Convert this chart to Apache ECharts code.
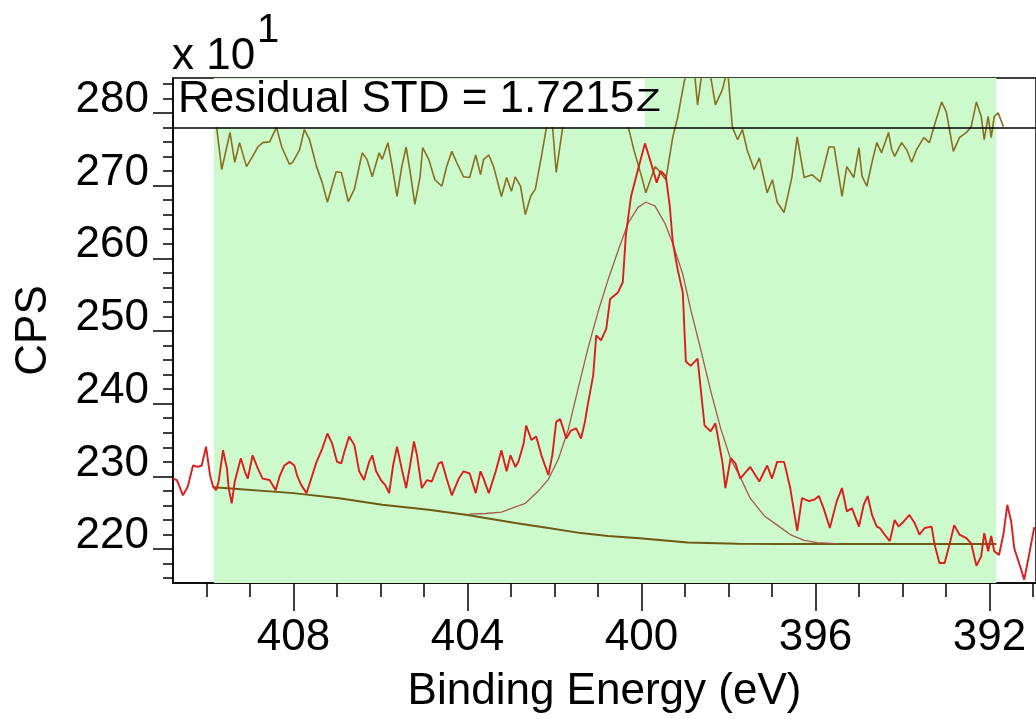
<!DOCTYPE html>
<html>
<head>
<meta charset="utf-8">
<title>N 1s</title>
<script src="https://cdn.jsdelivr.net/npm/echarts@6/dist/echarts.min.js"></script>
<style>
  html, body { margin: 0; padding: 0; background: #ffffff; }
  #chart { width: 1036px; height: 719px; }
</style>
</head>
<body>
<div id="chart"></div>
<script>
// Measured spectrum: [binding energy (eV), counts per second / 10]
const rawSpectrum = [
  [410.77,229.7],[410.68,229.5],[410.54,227.4],[410.43,228.6],[410.31,231.5],[410.20,231.3],[410.11,231.5],[410.01,234.1],
  [409.92,230.2],[409.85,228.6],[409.78,228.1],[409.72,229.3],[409.62,233.6],[409.53,231.1],[409.49,228.4],[409.42,226.3],
  [409.35,229.3],[409.21,232.5],[409.12,230.7],[409.05,229.7],[408.94,232.9],[408.82,231.1],[408.71,229.7],[408.55,229.5],
  [408.41,228.1],[408.32,230.0],[408.21,231.5],[408.09,232.0],[407.98,231.5],[407.91,230.0],[407.82,228.8],[407.70,227.7],
  [407.63,229.0],[407.47,232.0],[407.34,233.8],[407.22,235.9],[407.11,234.5],[407.00,232.0],[406.90,231.8],[406.83,233.4],
  [406.72,235.5],[406.60,234.3],[406.49,230.7],[406.38,229.5],[406.26,232.0],[406.19,232.9],[406.10,230.7],[405.99,229.5],
  [405.89,228.8],[405.80,227.7],[405.71,231.5],[405.62,234.1],[405.51,231.0],[405.41,228.4],[405.32,231.5],[405.23,234.8],
  [405.16,232.9],[405.05,228.4],[404.93,229.5],[404.82,229.3],[404.66,231.8],[404.59,232.0],[404.48,229.7],[404.36,227.4],
  [404.20,229.7],[404.09,230.7],[403.95,230.4],[403.81,227.7],[403.70,230.7],[403.63,229.7],[403.51,227.7],[403.35,230.7],
  [403.22,233.6],[403.10,230.7],[403.01,232.9],[402.90,231.3],[402.83,232.0],[402.71,234.5],[402.65,237.0],[402.53,235.0],
  [402.42,235.5],[402.30,232.9],[402.14,230.2],[402.05,232.9],[401.96,237.5],[401.87,237.9],[401.80,236.6],[401.73,235.2],
  [401.62,236.3],[401.50,236.6],[401.39,235.2],[401.30,237.5],[401.23,240.0],[401.11,243.9],[401.04,249.4],[400.93,248.7],
  [400.81,250.3],[400.72,254.4],[400.54,255.3],[400.43,256.7],[400.36,263.1],[400.24,268.5],[400.08,272.2],[399.92,275.8],
  [399.78,273.1],[399.65,270.4],[399.56,272.0],[399.44,271.3],[399.35,267.2],[399.28,262.2],[399.17,258.5],[399.05,255.3],
  [398.98,245.8],[398.87,245.2],[398.71,246.2],[398.55,237.0],[398.41,236.2],[398.30,237.3],[398.14,232.0],[398.07,228.4],
  [397.95,232.5],[397.84,231.8],[397.73,229.7],[397.50,231.3],[397.29,229.3],[397.11,231.5],[397.00,229.7],[396.88,232.0],
  [396.72,232.0],[396.58,228.4],[396.42,222.5],[396.31,227.0],[396.15,226.6],[396.03,226.8],[395.92,227.3],[395.80,225.4],
  [395.67,222.9],[395.51,226.6],[395.39,228.4],[395.28,225.2],[395.16,225.6],[395.00,223.1],[394.89,226.1],[394.80,227.3],
  [394.70,224.7],[394.59,223.1],[394.52,222.9],[394.41,222.0],[394.29,221.1],[394.18,224.0],[394.09,223.1],[393.97,223.8],
  [393.84,224.7],[393.72,223.6],[393.61,222.0],[393.49,222.9],[393.33,223.1],[393.26,220.6],[393.15,218.1],[393.03,218.1],
  [392.92,220.6],[392.81,223.3],[392.69,222.0],[392.53,221.5],[392.42,220.8],[392.30,217.7],[392.19,219.0],[392.12,222.2],
  [392.03,219.7],[391.96,221.8],[391.89,219.7],[391.78,219.2],[391.68,222.0],[391.59,226.1],[391.50,223.8],[391.43,220.1],
  [391.32,218.1],[391.20,215.8],[391.09,219.2],[390.97,223.0]
];

// Fit residual, drawn in the upper band
const residual = [
  [409.83,280.5],[409.76,277.7],[409.65,272.2],[409.46,277.3],[409.35,273.2],[409.24,275.9],[409.08,272.6],[408.94,274.0],
  [408.82,275.3],[408.71,275.9],[408.55,276.0],[408.39,278.0],[408.27,275.3],[408.09,272.9],[408.02,273.2],[407.86,274.9],
  [407.75,277.7],[407.63,276.3],[407.47,272.6],[407.34,270.4],[407.22,267.7],[407.02,271.9],[406.90,271.8],[406.74,267.8],
  [406.60,269.5],[406.42,274.5],[406.31,273.6],[406.19,271.2],[406.03,274.5],[405.96,273.6],[405.83,275.9],[405.73,272.6],
  [405.62,268.5],[405.51,272.6],[405.41,275.3],[405.30,271.2],[405.21,267.4],[405.09,271.2],[405.03,275.2],[404.89,273.6],
  [404.75,270.8],[404.59,269.9],[404.48,272.6],[404.36,274.7],[404.25,273.2],[404.09,271.2],[403.95,271.1],[403.81,274.2],
  [403.70,271.5],[403.63,273.6],[403.51,274.2],[403.40,272.6],[403.22,268.5],[403.10,271.1],[402.99,269.2],[402.90,271.2],
  [402.78,269.9],[402.67,266.0],[402.55,268.5],[402.44,269.5],[402.30,274.0],[402.14,279.5],[402.07,280.0],[401.96,271.8],
  [401.80,278.5],[401.57,282.0],[401.23,283.0],[400.88,282.0],[400.54,280.5],[400.31,278.2],[400.17,274.8],[400.01,271.5],
  [399.90,269.0],[399.69,272.6],[399.62,272.2],[399.44,270.8],[399.28,276.7],[399.17,279.3],[399.01,284.5],[398.90,287.0],
  [398.78,285.5],[398.71,281.1],[398.60,286.0],[398.48,285.5],[398.41,285.0],[398.30,281.1],[398.14,283.2],[398.02,286.0],
  [397.91,278.0],[397.79,276.3],[397.68,277.7],[397.57,274.9],[397.41,272.2],[397.29,273.8],[397.11,269.0],[396.99,270.8],
  [396.88,267.7],[396.72,266.3],[396.54,271.2],[396.42,276.7],[396.26,271.1],[396.08,271.5],[395.89,270.5],[395.69,275.3],
  [395.57,275.3],[395.39,268.5],[395.28,272.6],[395.12,271.1],[395.00,275.2],[394.93,271.3],[394.82,269.9],[394.70,273.2],
  [394.59,275.9],[394.48,274.5],[394.32,277.3],[394.25,275.0],[394.18,274.0],[394.02,275.9],[393.90,274.9],[393.79,273.2],
  [393.68,274.9],[393.51,276.6],[393.38,275.9],[393.26,278.4],[393.10,281.5],[392.99,280.1],[392.83,274.7],[392.69,276.6],
  [392.53,277.3],[392.42,278.1],[392.30,281.5],[392.19,279.5],[392.12,276.3],[392.03,279.5],[391.96,276.6],[391.89,279.5],
  [391.80,280.0],[391.68,278.1]
];

// Fitted envelope (component + background)
const envelope = [
  [403.97,224.8],[403.58,224.9],[403.22,225.1],[402.99,225.6],[402.67,226.3],[402.37,228.0],[402.14,229.6],[401.91,232.4],
  [401.68,236.5],[401.46,242.0],[401.23,247.6],[401.00,252.6],[400.77,257.0],[400.54,261.0],[400.31,264.8],[400.08,267.0],
  [399.90,267.7],[399.69,267.2],[399.46,264.8],[399.28,262.0],[399.05,257.8],[398.87,253.0],[398.64,247.5],[398.41,241.8],
  [398.18,236.6],[397.95,232.4],[397.73,229.9],[397.50,227.0],[397.18,224.6],[396.88,223.3],[396.58,222.0],[396.26,221.2],
  [395.96,220.9],[395.51,220.75]
];

// Shirley-type background
const background = [
  [409.83,228.5],[408.00,227.7],[406.95,227.0],[405.96,226.1],[404.89,225.4],[404.00,224.7],[402.90,223.6],[402.14,222.9],
  [401.39,222.2],[400.77,221.8],[400.04,221.5],[398.94,220.9],[397.79,220.75],[396.81,220.7],[391.84,220.7]
];

// Quantification region limits (eV)
const regionStart = 409.83;
const regionEnd = 391.84;

// Zero line of the residual band
const residualBase = 277.95;

// Axis ticks
const energyMajorTicks = [392, 396, 400, 404, 408];
const energyMinorTicks = [391, 392, 393, 394, 395, 396, 397, 398, 399, 400, 401, 402, 403, 404, 405, 406, 407, 408, 409, 410];
const cpsMajorTicks = [220, 230, 240, 250, 260, 270, 280];
const cpsMinorTicks = [216, 218, 222, 224, 226, 228, 232, 234, 236, 238, 242, 244, 246, 248, 252, 254, 256, 258, 262, 264, 266, 268, 272, 274, 276, 278, 282, 284];

const residualLabel = 'Residual STD = 1.7215';

const FONT = '"Liberation Sans", Arial, Helvetica, sans-serif';
const BLACK = '#000000';
const energyRange = { min: 390.93, max: 410.77 };
const cpsRange = { min: 215.34, max: 284.79 };

const chart = echarts.init(document.getElementById('chart'), null, { renderer: 'canvas' });

const tickLine = { color: BLACK, width: 1.5 };

chart.setOption({
  animation: false,
  backgroundColor: '#ffffff',
  grid: {
    left: 173, top: 78, right: -4, bottom: 135,
    show: true, borderColor: BLACK, borderWidth: 1.5, backgroundColor: 'transparent'
  },
  xAxis: [
    {
      type: 'value', inverse: true, position: 'bottom',
      min: energyRange.min, max: energyRange.max,
      axisLine: { show: true, onZero: false, lineStyle: { color: BLACK, width: 1.5 } },
      axisTick: { show: true, inside: false, length: 28, customValues: energyMajorTicks, lineStyle: tickLine },
      axisLabel: { customValues: energyMajorTicks, margin: 33, fontSize: 44, lineHeight: 44, fontFamily: FONT, color: BLACK },
      splitLine: { show: false },
      name: 'Binding Energy (eV)', nameLocation: 'middle', nameGap: 87,
      nameTextStyle: { fontSize: 44, lineHeight: 44, fontFamily: FONT, color: BLACK }
    },
    {
      type: 'value', inverse: true, position: 'bottom', offset: 0,
      min: energyRange.min, max: energyRange.max,
      axisLine: { show: false, onZero: false },
      axisTick: { show: true, inside: false, length: 14, customValues: energyMinorTicks, lineStyle: tickLine },
      axisLabel: { show: false },
      splitLine: { show: false }
    }
  ],
  yAxis: [
    {
      type: 'value', position: 'left',
      min: cpsRange.min, max: cpsRange.max,
      axisLine: { show: true, onZero: false, lineStyle: { color: BLACK, width: 1.5 } },
      axisTick: { show: true, inside: false, length: 20, customValues: cpsMajorTicks, lineStyle: tickLine },
      axisLabel: { customValues: cpsMajorTicks, margin: 24, fontSize: 44, lineHeight: 26, verticalAlign: 'bottom', fontFamily: FONT, color: BLACK },
      splitLine: { show: false },
      name: 'CPS', nameLocation: 'middle', nameGap: 117, nameRotate: 90,
      nameTextStyle: { fontSize: 44, lineHeight: 44, fontFamily: FONT, color: BLACK }
    },
    {
      type: 'value', position: 'left', offset: 0,
      min: cpsRange.min, max: cpsRange.max,
      axisLine: { show: false, onZero: false },
      axisTick: { show: true, inside: false, length: 10, customValues: cpsMinorTicks, lineStyle: tickLine },
      axisLabel: { show: false },
      splitLine: { show: false }
    }
  ],
  series: [
    {
      name: 'Background', type: 'line', data: background,
      xAxisIndex: 0, yAxisIndex: 0, z: 1,
      symbol: 'none', smooth: false,
      lineStyle: { color: '#6e5a14', width: 2 },
      markArea: {
        silent: true,
        itemStyle: { color: '#ccfacc', opacity: 1 },
        data: [[{ xAxis: regionStart }, { xAxis: regionEnd }]]
      }
    },
    {
      name: 'Envelope', type: 'line', data: envelope,
      xAxisIndex: 0, yAxisIndex: 0, z: 2,
      symbol: 'none', smooth: false,
      lineStyle: { color: '#a9574a', width: 1.3 }
    },
    {
      name: 'Residual', type: 'line', data: residual,
      xAxisIndex: 0, yAxisIndex: 0, z: 3,
      symbol: 'none', smooth: false,
      lineStyle: { color: '#8b6d1e', width: 1.6 },
      markLine: {
        silent: true, symbol: 'none',
        label: { show: false },
        lineStyle: { color: BLACK, type: 'solid', width: 1.5 },
        data: [{ yAxis: residualBase }]
      }
    },
    {
      name: 'Counts', type: 'line', data: rawSpectrum,
      xAxisIndex: 0, yAxisIndex: 0, z: 4,
      symbol: 'none', smooth: false,
      lineStyle: { color: '#dd1c1c', width: 1.9 }
    }
  ],
  graphic: [
    {
      type: 'rect', z: 100, silent: true,
      shape: { x: 174, y: 79, width: 471, height: 48 },
      style: { fill: '#ffffff' }
    },
    {
      type: 'text', z: 101, silent: true, x: 178, y: 100,
      style: { text: residualLabel, font: '44px ' + FONT, fill: BLACK, align: 'left', verticalAlign: 'middle' }
    },
    {
      type: 'text', z: 102, silent: true, x: 636, y: 102, scaleX: 1.3,
      style: { text: 'Z', font: '31px ' + FONT, fill: BLACK, align: 'left', verticalAlign: 'middle' }
    },
    {
      type: 'text', z: 101, silent: true, x: 172, y: 57,
      style: { text: 'x 10', font: '44px ' + FONT, fill: BLACK, align: 'left', verticalAlign: 'middle' }
    },
    {
      type: 'text', z: 101, silent: true, x: 257, y: 31,
      style: { text: '1', font: '40px ' + FONT, fill: BLACK, align: 'left', verticalAlign: 'middle' }
    }
  ]
});
</script>
</body>
</html>
